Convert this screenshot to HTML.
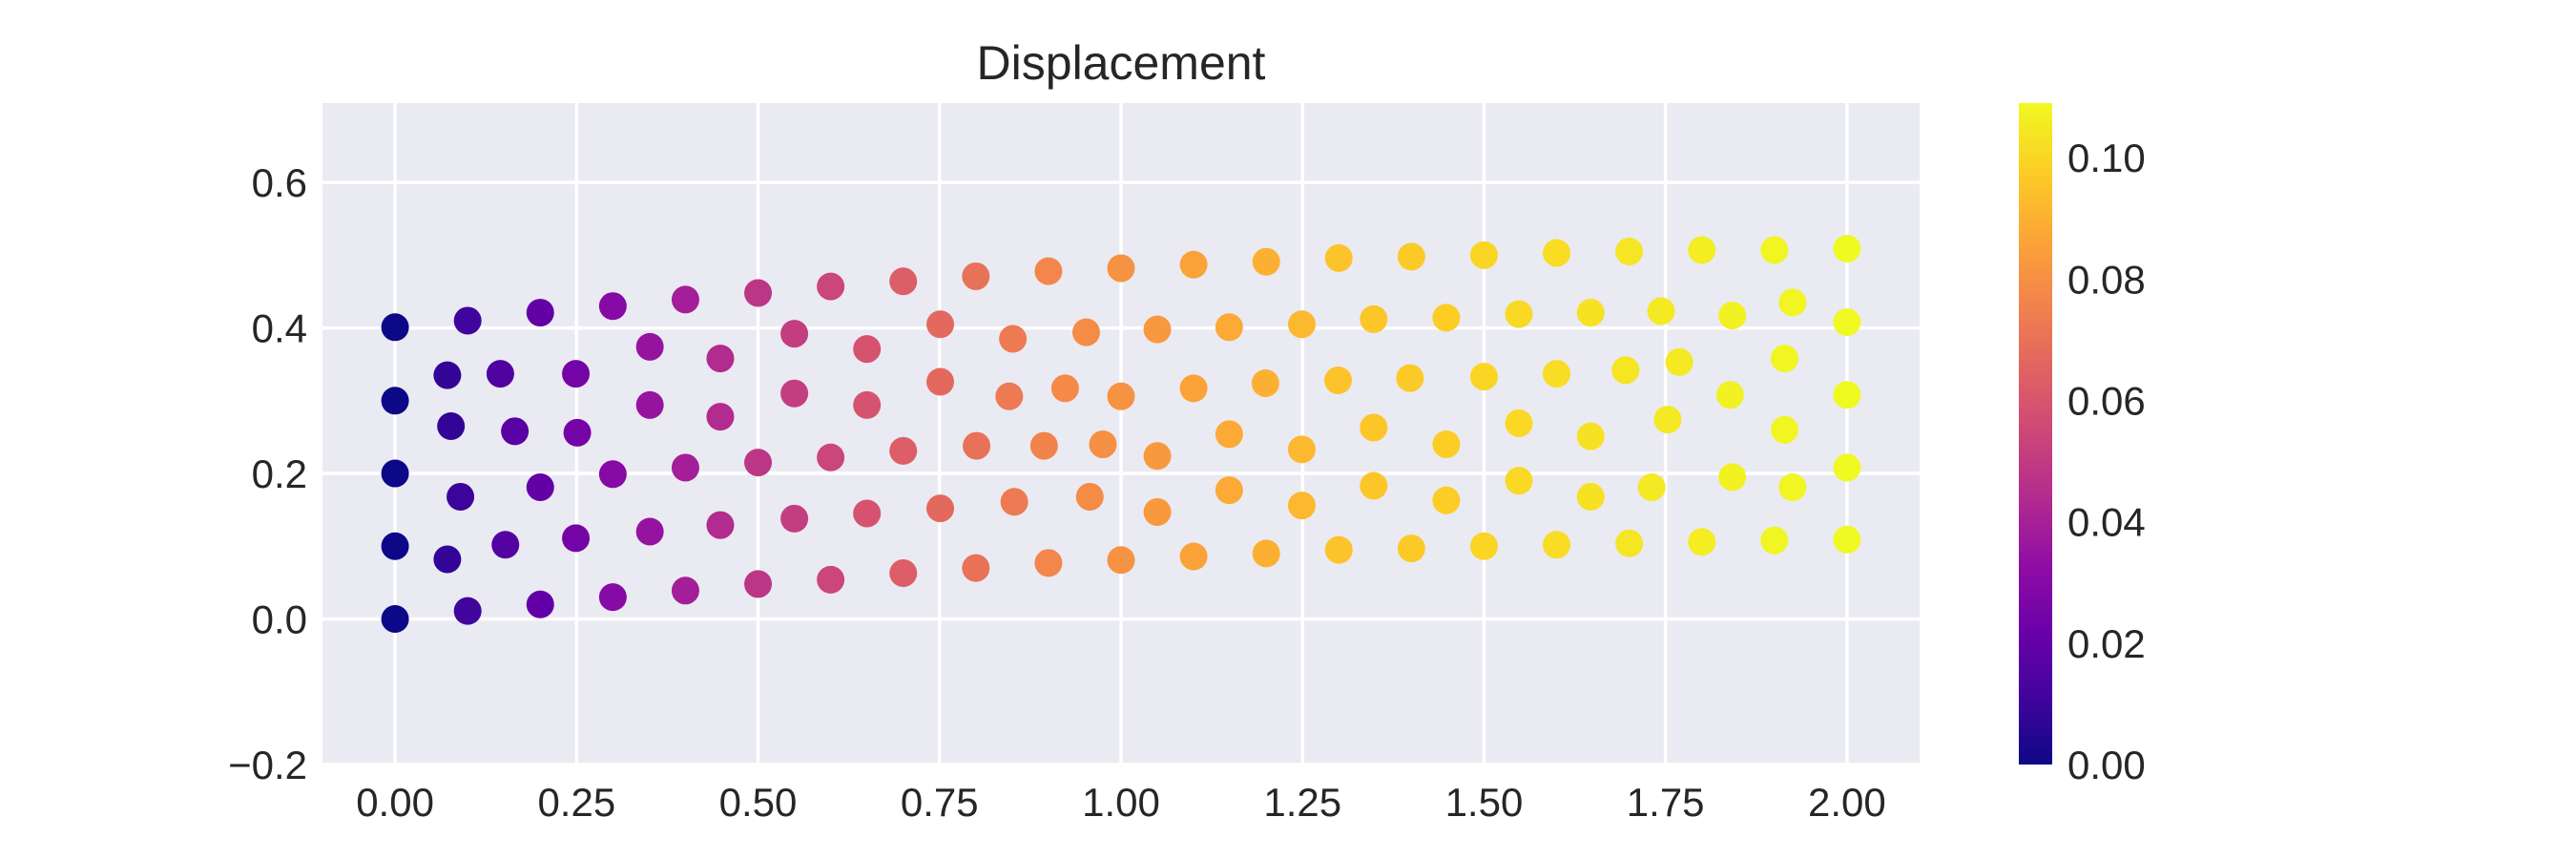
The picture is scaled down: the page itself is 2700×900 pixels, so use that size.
<!DOCTYPE html>
<html><head><meta charset="utf-8"><style>
html,body{margin:0;padding:0;background:#fff;}
svg{display:block;font-family:"Liberation Sans",sans-serif;}
</style></head><body>
<svg id="chart" width="2700" height="900" viewBox="0 0 2700 900" xmlns="http://www.w3.org/2000/svg">
<defs><linearGradient id="cbgrad" x1="0" y1="1" x2="0" y2="0"></linearGradient></defs>
<rect x="338" y="108" width="1674" height="693" fill="#eaeaf2"/>
<g id="grid"></g><g id="points"></g><g id="ticks"></g>
<text x="1175" y="83" font-size="50" text-anchor="middle" fill="#262626">Displacement</text>
<rect id="cbar" x="2116" y="108" width="35" height="693" fill="url(#cbgrad)"/>
</svg>
<script>
const xTicks=[0,0.25,0.5,0.75,1,1.25,1.5,1.75,2];
const xTickLabels=["0.00","0.25","0.50","0.75","1.00","1.25","1.50","1.75","2.00"];
const yTicks=[-0.2,0,0.2,0.4,0.6];
const yTickLabels=["\u22120.2","0.0","0.2","0.4","0.6"];
const cTicks=[0,0.02,0.04,0.06,0.08,0.10];
const cTickLabels=["0.00","0.02","0.04","0.06","0.08","0.10"];
const bottomX=[0,0.1,0.2,0.3,0.4,0.5,0.6,0.7,0.8,0.9,1.0,1.1,1.2,1.3,1.4,1.5,1.6,1.7,1.8,1.9,2.0];
const bottomY=[0,0.011,0.02,0.03,0.039,0.048,0.054,0.063,0.07,0.077,0.081,0.086,0.09,0.095,0.097,0.1,0.102,0.104,0.106,0.108,0.109];
const bottomC=[0,0.011,0.02,0.03,0.039,0.048,0.054,0.063,0.07,0.077,0.081,0.086,0.09,0.095,0.097,0.1,0.102,0.104,0.106,0.108,0.109];
const topX=[0,0.1,0.2,0.3,0.4,0.5,0.6,0.7,0.8,0.9,1.0,1.1,1.2,1.3,1.4,1.5,1.6,1.7,1.8,1.9,2.0];
const topY=[0.401,0.41,0.421,0.43,0.439,0.448,0.457,0.464,0.471,0.478,0.482,0.487,0.491,0.496,0.498,0.5,0.503,0.505,0.507,0.507,0.509];
const topC=[0,0.011,0.02,0.03,0.039,0.048,0.054,0.063,0.07,0.077,0.081,0.086,0.09,0.095,0.097,0.1,0.102,0.104,0.106,0.108,0.109];
const innerX=[0,0,0,0.072,0.077,0.09,0.072,0.145,0.165,0.152,0.2,0.249,0.251,0.249,0.3,0.351,0.351,0.351,0.4,0.448,0.448,0.448,0.5,0.55,0.55,0.55,0.6,0.65,0.65,0.65,0.7,0.751,0.751,0.751,0.801,0.851,0.846,0.853,0.894,0.952,0.923,0.957,0.975,1.05,1.0,1.05,1.05,1.149,1.1,1.149,1.149,1.249,1.199,1.249,1.249,1.348,1.299,1.348,1.348,1.448,1.398,1.448,1.448,1.548,1.5,1.548,1.548,1.647,1.6,1.647,1.647,1.744,1.695,1.731,1.753,1.769,1.842,1.839,1.842,1.925,1.914,1.914,1.925,2.0,2.0,2.0];
const innerY=[0.1,0.2,0.3,0.335,0.265,0.168,0.082,0.337,0.258,0.102,0.181,0.337,0.256,0.111,0.199,0.374,0.294,0.12,0.208,0.358,0.278,0.129,0.215,0.392,0.31,0.138,0.222,0.371,0.294,0.145,0.231,0.405,0.326,0.152,0.238,0.385,0.306,0.161,0.238,0.394,0.317,0.168,0.24,0.398,0.306,0.147,0.224,0.401,0.317,0.177,0.254,0.405,0.324,0.156,0.233,0.412,0.328,0.183,0.263,0.414,0.331,0.163,0.24,0.419,0.333,0.19,0.269,0.421,0.337,0.168,0.251,0.423,0.342,0.181,0.274,0.353,0.417,0.308,0.195,0.435,0.358,0.26,0.181,0.408,0.308,0.208];
const innerC=[0,0,0,0.008,0.008,0.01,0.008,0.015,0.017,0.016,0.02,0.025,0.025,0.025,0.03,0.035,0.035,0.035,0.039,0.044,0.044,0.044,0.048,0.051,0.051,0.051,0.054,0.059,0.059,0.059,0.063,0.067,0.067,0.067,0.07,0.073,0.073,0.073,0.076,0.079,0.078,0.079,0.08,0.083,0.081,0.083,0.083,0.088,0.086,0.088,0.088,0.092,0.09,0.092,0.092,0.096,0.095,0.096,0.096,0.098,0.097,0.098,0.098,0.101,0.1,0.101,0.101,0.103,0.102,0.103,0.103,0.105,0.104,0.105,0.105,0.105,0.107,0.107,0.107,0.108,0.108,0.108,0.108,0.109,0.109,0.109];

const NS="http://www.w3.org/2000/svg";
const L=338,R=2012,T=108,B=801,XMIN=-0.1,XMAX=2.1,YMIN=-0.2,YMAX=0.709,VMAX=0.109;
const sx=v=>L+(v-XMIN)/(XMAX-XMIN)*(R-L);
const sy=v=>B-(v-YMIN)/(YMAX-YMIN)*(B-T);
const sc=v=>B-v/VMAX*(B-T);
const stops=["#0d0887","#41049d","#6a00a8","#8f0da4","#b12a90","#cc4778","#e16462","#f2844b","#fca636","#fcce25","#f0f921"];
function hex(h){return [1,3,5].map(i=>parseInt(h.substr(i,2),16));}
function cmap(t){t=Math.max(0,Math.min(1,t))*10;const i=Math.min(9,Math.floor(t)),f=t-i;const a=hex(stops[i]),b=hex(stops[i+1]);return "rgb("+a.map((v,k)=>Math.round(v+(b[k]-v)*f)).join(",")+")";}
function mk(tag,attrs,parent){const e=document.createElementNS(NS,tag);for(const k in attrs)e.setAttribute(k,attrs[k]);parent.appendChild(e);return e;}
const svg=document.getElementById("chart");
const grid=document.getElementById("grid"),pts=document.getElementById("points"),tk=document.getElementById("ticks");
const grad=document.getElementById("cbgrad");
stops.forEach((c,i)=>{mk("stop",{offset:(i*10)+"%","stop-color":c},grad);});
xTicks.forEach((v,i)=>{
 const ln=mk("line",{x1:sx(v),x2:sx(v),y1:T,y2:B,stroke:"#fff","stroke-width":3.5},grid);
 
 
 const t=mk("text",{x:sx(v),y:855,"font-size":42,"text-anchor":"middle",fill:"#262626"},tk);
 t.textContent=xTickLabels[i];
 
 
});
yTicks.forEach((v,i)=>{
 const ln=mk("line",{x1:L,x2:R,y1:sy(v),y2:sy(v),stroke:"#fff","stroke-width":3.5},grid);
 
 
 const t=mk("text",{x:322,y:sy(v)+15,"font-size":42,"text-anchor":"end",fill:"#262626"},tk);
 t.textContent=yTickLabels[i];
 
 
});
cTicks.forEach((v,i)=>{
 const t=mk("text",{x:2167,y:sc(v)+15,"font-size":42,fill:"#262626"},svg);
 t.textContent=cTickLabels[i];
 
 
});
function draw(xs,ys,cs,name){xs.forEach((x,i)=>{
 const c=mk("circle",{cx:sx(x),cy:sy(ys[i]),r:14.5,fill:cmap(cs[i]/VMAX)},pts);
 
 
});}
draw(bottomX,bottomY,bottomC,'bottom-node');
draw(innerX,innerY,innerC,'inner-node');
draw(topX,topY,topC,'top-node');
</script>
</body></html>
